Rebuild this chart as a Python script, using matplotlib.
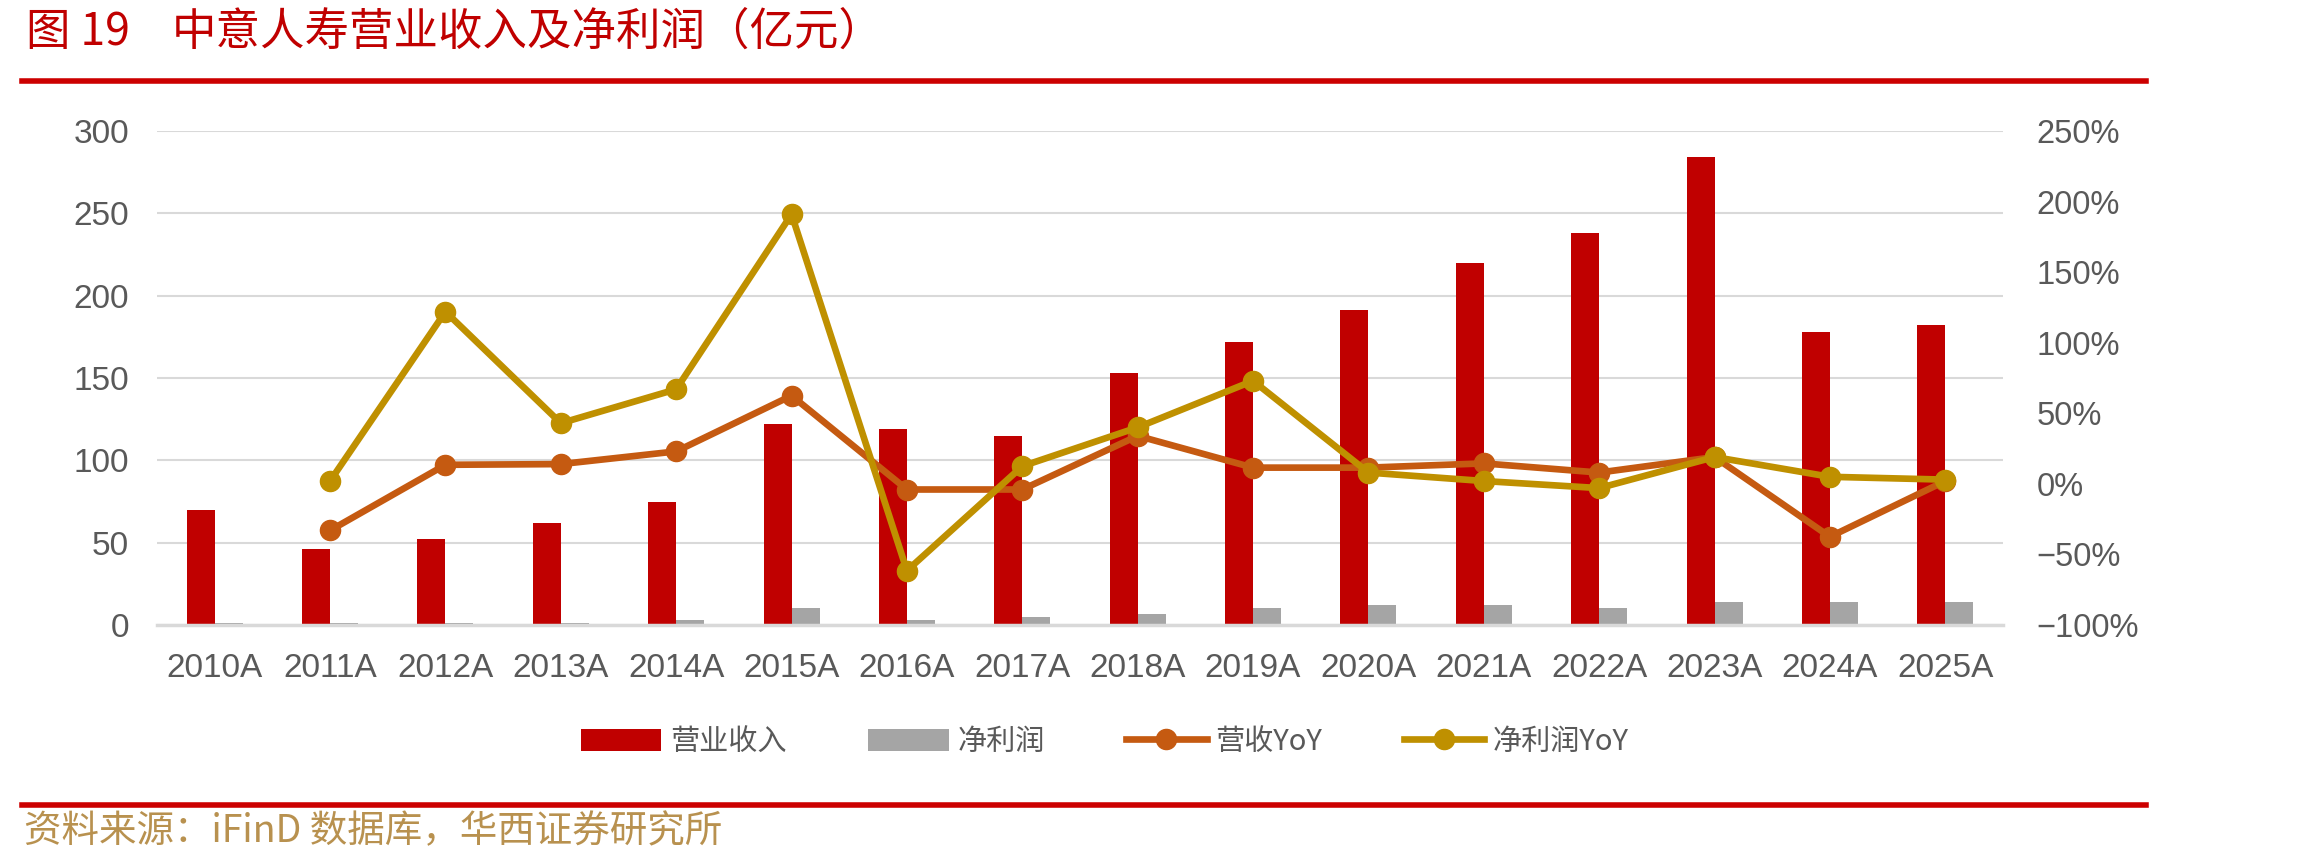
import numpy as np
import matplotlib
matplotlib.use("Agg")
import matplotlib.pyplot as plt
from matplotlib.lines import Line2D
from matplotlib.ticker import FuncFormatter

categories = ["2010A", "2011A", "2012A", "2013A", "2014A", "2015A", "2016A", "2017A",
              "2018A", "2019A", "2020A", "2021A", "2022A", "2023A", "2024A", "2025A"]
revenue = [70, 46, 52, 62, 75, 122, 119, 115, 153, 172, 191, 220, 238, 284, 178, 182]
profit = [1.5, 1.5, 1.5, 1.0, 2.8, 10.3, 2.8, 4.9, 6.7, 10.3, 12.3, 12.3, 10.3, 14.2, 14.2, 14.2]
rev_yoy = [-33, 13.5, 14, 23, 62.5, -4, -4, 34, 11.5, 11.5, 14.5, 8, 19, -37.5, 2]
profit_yoy = [2, 122, 43, 67, 191, -61.5, 12.5, 40, 73, 8, 2, -3, 19, 5, 3]

CJK = ["Noto Sans CJK SC", "DejaVu Sans"]
NUM = ["Liberation Sans", "DejaVu Sans"]
TXT = "#595959"

fig = plt.figure(figsize=(23.06, 8.63), dpi=100)
ax = fig.add_axes([157/2306, 1-625/863, (2003-157)/2306, (625-131)/863])
ax2 = ax.twinx()

x = np.arange(len(categories))
w = 0.243
b1 = ax.bar(x - w/2, revenue, w, color="#C00000", label="营业收入", zorder=2)
b2 = ax.bar(x + w/2, profit, w, color="#A5A5A5", label="净利润", zorder=2)
ax.set_xlim(-0.5, len(categories) - 0.5)
ax.set_ylim(0, 300)
ax.set_yticks(np.arange(0, 301, 50))
ax.set_xticks(x)
ax.set_xticklabels(categories)
ax.grid(axis="y", color="#D9D9D9", lw=1.5, zorder=0)
ax.set_axisbelow(True)

l1, = ax2.plot(x[1:], rev_yoy, color="#C55A11", lw=4.8, marker="o", ms=14.5,
               label="营收YoY", zorder=3)
l2, = ax2.plot(x[1:], profit_yoy, color="#BF9000", lw=4.8, marker="o", ms=14.5,
               label="净利润YoY", zorder=4)
ax2.set_ylim(-100, 250)
ax2.set_yticks(np.arange(-100, 251, 50))
ax2.yaxis.set_major_formatter(FuncFormatter(lambda v, p: f"{int(v)}%".replace("-", "\u2212")))

for a in (ax, ax2):
    for s in ("top", "left", "right"):
        a.spines[s].set_visible(False)
    a.spines["bottom"].set_visible(a is ax)
ax.spines["bottom"].set_color("#D9D9D9")
ax.spines["bottom"].set_linewidth(2.5)

ax.tick_params(axis="both", length=0, labelsize=24, labelcolor=TXT)
ax.tick_params(axis="x", pad=20)
ax.tick_params(axis="y", pad=20)
ax2.tick_params(axis="y", length=0, labelsize=23.5, labelcolor=TXT, pad=24)
for lab in ax.get_xticklabels() + ax.get_yticklabels() + ax2.get_yticklabels():
    lab.set_family(NUM)

leg = fig.legend([b1, b2, l1, l2], ["营业收入", "净利润", "营收YoY", "净利润YoY"],
                 loc="center", bbox_to_anchor=(1105/2306, 1-742/863), ncol=4, frameon=False,
                 prop={"family": CJK, "size": 21}, handlelength=2.75, handletextpad=0.3,
                 columnspacing=2.8, handleheight=0.8)
for t in leg.get_texts():
    t.set_color(TXT)

red = "#C00000"
fig.text(26/2306, 1-32/863, "图 19", color=red, fontsize=32, family=CJK, va="center", ha="left")
fig.text(172/2306, 1-32/863, "中意人寿营业收入及净利润（亿元）", color=red, fontsize=32,
         family=CJK, va="center", ha="left")
fig.add_artist(Line2D([22/2306, 2146/2306], [1-81/863]*2, color="#CC0000", lw=4))
fig.add_artist(Line2D([22/2306, 2146/2306], [1-805/863]*2, color="#CC0000", lw=4))
fig.text(24/2306, 1-832/863, "资料来源：iFinD 数据库，华西证券研究所", color="#B8914F",
         fontsize=27, family=CJK, va="center", ha="left")

fig.savefig("out.png", dpi=100)
